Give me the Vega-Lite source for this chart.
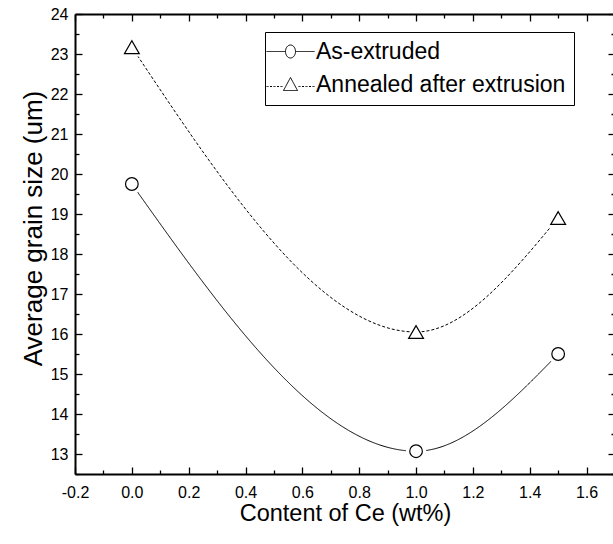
{
  "$schema": "https://vega.github.io/schema/vega-lite/v6.json",
  "width": 540,
  "height": 460,
  "autosize": {"type": "none"},
  "padding": {"left": 75, "top": 14, "right": 0, "bottom": 70},
  "background": "white",
  "config": {
    "view": {"stroke": null},
    "font": "Liberation Sans",
    "axis": {"grid": false, "labelColor": "black", "titleColor": "black", "domainColor": "black", "tickColor": "black", "titleFontWeight": "normal", "labelFlush": false, "labelOverlap": false}
  },
  "data": {
    "values": [
      {"series": "As-extruded", "ce": 0.0, "size": 19.75},
      {"series": "As-extruded", "ce": 1.0, "size": 13.07},
      {"series": "As-extruded", "ce": 1.5, "size": 15.5},
      {"series": "Annealed after extrusion", "ce": 0.0, "size": 23.17},
      {"series": "Annealed after extrusion", "ce": 1.0, "size": 16.05},
      {"series": "Annealed after extrusion", "ce": 1.5, "size": 18.9}
    ]
  },
  "resolve": {"scale": {"size": "independent", "shape": "independent", "strokeDash": "independent"}, "axis": {"x": "independent", "y": "independent"}},
  "layer": [
    {
      "mark": {"type": "line", "interpolate": "monotone", "color": "black", "strokeWidth": 1},
      "encoding": {
        "x": {"field": "ce", "type": "quantitative", "scale": {"domain": [-0.2, 1.7], "nice": false, "zero": false},
          "axis": {"orient": "bottom", "title": "Content of Ce (wt%)", "titleFontSize": 23.5, "titlePadding": -2,
            "values": [-0.2,-0.1,0,0.1,0.2,0.3,0.4,0.5,0.6,0.7,0.8,0.9,1,1.1,1.2,1.3,1.4,1.5,1.6,1.7],
            "labelExpr": "abs(round(datum.value*10))%2==0 ? (datum.value < 0 ? '-' + format(abs(datum.value),'.1f') : format(datum.value,'.1f')) : ''",
            "tickSize": {"condition": {"test": "abs(round(datum.value*10))%2==1", "value": -4}, "value": -7},
            "tickWidth": 1.3, "domainWidth": 2, "labelFontSize": 16, "labelPadding": 17}},
        "y": {"field": "size", "type": "quantitative", "scale": {"domain": [12.5, 24], "nice": false, "zero": false},
          "axis": {"orient": "left", "title": "Average grain size (um)", "titleFontSize": 26, "titlePadding": 4, "titleY": 214,
            "values": [12.5,13,13.5,14,14.5,15,15.5,16,16.5,17,17.5,18,18.5,19,19.5,20,20.5,21,21.5,22,22.5,23,23.5,24],
            "labelExpr": "round(datum.value*2)%2==0 ? format(datum.value,'d') : ''",
            "tickSize": {"condition": {"test": "round(datum.value*2)%2==1", "value": -4}, "value": -7},
            "tickWidth": 1.3, "domainWidth": 2, "labelFontSize": 16, "labelPadding": 14}},
        "strokeDash": {"field": "series", "type": "nominal", "legend": null,
          "scale": {"domain": ["As-extruded", "Annealed after extrusion"], "range": [[1, 0], [3, 2]]}}
      }
    },
    {
      "mark": {"type": "point", "filled": true, "color": "white", "opacity": 1},
      "encoding": {
        "x": {"field": "ce", "type": "quantitative",
          "axis": {"orient": "top", "title": null, "labels": false,
            "values": [-0.2,-0.1,0,0.1,0.2,0.3,0.4,0.5,0.6,0.7,0.8,0.9,1,1.1,1.2,1.3,1.4,1.5,1.6,1.7],
            "tickSize": {"condition": {"test": "abs(round(datum.value*10))%2==1", "value": -4}, "value": -7},
            "tickWidth": 1.3, "domainWidth": 2}},
        "y": {"field": "size", "type": "quantitative",
          "axis": {"orient": "right", "title": null, "labels": false,
            "values": [12.5,13,13.5,14,14.5,15,15.5,16,16.5,17,17.5,18,18.5,19,19.5,20,20.5,21,21.5,22,22.5,23,23.5,24],
            "tickSize": {"condition": {"test": "round(datum.value*2)%2==1", "value": -4}, "value": -7},
            "tickWidth": 1.3, "domainWidth": 2}},
        "shape": {"field": "series", "type": "nominal", "legend": null,
          "scale": {"domain": ["As-extruded", "Annealed after extrusion"], "range": ["circle", "triangle-up"]}},
        "size": {"field": "series", "type": "nominal", "legend": null,
          "scale": {"domain": ["As-extruded", "Annealed after extrusion"], "range": [420, 460]}}
      }
    },
    {
      "mark": {"type": "point", "filled": false, "fill": "white", "fillOpacity": 1, "stroke": "black", "strokeWidth": 1.2, "opacity": 1},
      "encoding": {
        "x": {"field": "ce", "type": "quantitative", "axis": null},
        "y": {"field": "size", "type": "quantitative", "axis": null},
        "shape": {"field": "series", "type": "nominal", "legend": null,
          "scale": {"domain": ["As-extruded", "Annealed after extrusion"], "range": ["circle", "triangle-up"]}},
        "size": {"field": "series", "type": "nominal", "legend": null,
          "scale": {"domain": ["As-extruded", "Annealed after extrusion"], "range": [160, 220]}}
      }
    },
    {
      "transform": [{"filter": "datum.ce < -1"}],
      "mark": {"type": "line", "color": "black", "strokeWidth": 1},
      "encoding": {
        "x": {"field": "ce", "type": "quantitative", "axis": null},
        "y": {"field": "size", "type": "quantitative", "axis": null},
        "strokeDash": {"field": "series", "type": "nominal",
          "scale": {"domain": ["As-extruded", "Annealed after extrusion"], "range": [[1, 0], [1, 0]]},
          "legend": {"title": null, "orient": "none", "legendX": 190, "legendY": 18,
            "strokeColor": "black", "fillColor": "white", "padding": 8,
            "labelFontSize": 23, "labelColor": "black", "labelLimit": 400, "rowPadding": 9,
            "symbolType": {"expr": "datum.value == 'As-extruded' ? 'M-4.8,0L-1,0M1,0L4.8,0M1,0C1,0.718 0.552,1.3 0,1.3C-0.552,1.3 -1,0.718 -1,0C-1,-0.718 -0.552,-1.3 0,-1.3C0.552,-1.3 1,-0.718 1,0Z' : 'M-4.8,0.4L-4.4,0.4M-4.1,0.4L-3.7,0.4M-3.4,0.4L-3.0,0.4M-2.7,0.4L-2.3,0.4M-2.0,0.4L-1.6,0.4M1.6,0.4L2.0,0.4M2.3,0.4L2.7,0.4M3.0,0.4L3.4,0.4M3.7,0.4L4.1,0.4M4.4,0.4L4.8,0.4M-1.4,1.2L1.4,1.2L0,-1.4Z'"},
            "symbolSize": 100, "symbolStrokeColor": "black", "symbolStrokeWidth": 1,
            "symbolOffset": 6, "labelOffset": 14}}
      }
    }
  ]
}
